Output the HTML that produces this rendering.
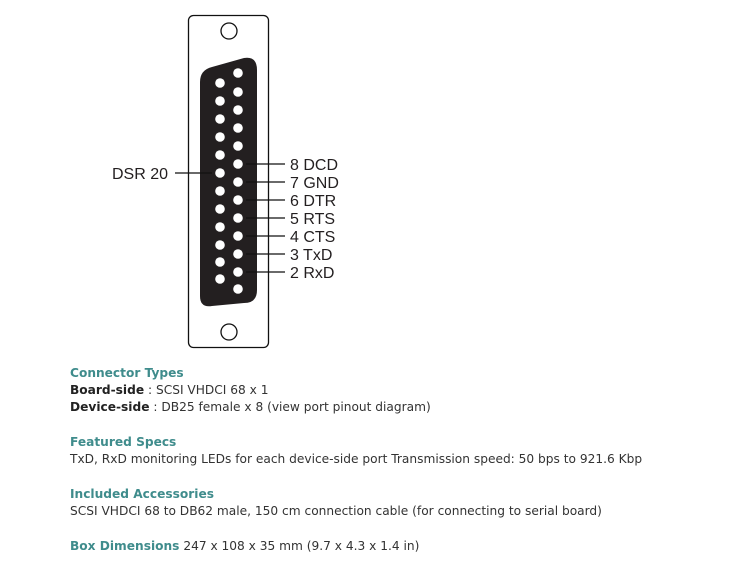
<!DOCTYPE html>
<html><head><style>
body{margin:0;background:#fff;width:730px;height:566px;position:relative;overflow:hidden}
svg{position:absolute;left:0;top:0}
.t{position:absolute;left:70px;font-family:"DejaVu Sans","Liberation Sans",sans-serif;font-size:12.2px;color:#333;white-space:nowrap;line-height:17px}
.h{color:#3f8c8c;font-weight:bold}
b{color:#222}
</style></head><body>
<svg width="730" height="360" font-family="Liberation Sans, Arial, sans-serif" font-size="16">
<rect x="188.5" y="15.5" width="80" height="332" rx="5" fill="#fff" stroke="#111" stroke-width="1.3"/>
<circle cx="229" cy="31" r="8" fill="#fff" stroke="#111" stroke-width="1.3"/>
<circle cx="229" cy="332" r="8" fill="#fff" stroke="#111" stroke-width="1.3"/>
<path d="M200,82 Q200,70 212,67 L244,58 Q257,56 257,70 L257,290 Q257,303 244,303 L212,306 Q200,308 200,296 Z" fill="#231f20"/>
<g fill="#fff">
<circle cx="238" cy="73" r="4.8"/><circle cx="238" cy="92" r="4.8"/><circle cx="238" cy="110" r="4.8"/><circle cx="238" cy="128" r="4.8"/><circle cx="238" cy="146" r="4.8"/><circle cx="238" cy="164" r="4.8"/><circle cx="238" cy="182" r="4.8"/><circle cx="238" cy="200" r="4.8"/><circle cx="238" cy="218" r="4.8"/><circle cx="238" cy="236" r="4.8"/><circle cx="238" cy="254" r="4.8"/><circle cx="238" cy="272" r="4.8"/><circle cx="238" cy="289" r="4.8"/>
<circle cx="220" cy="83" r="4.8"/><circle cx="220" cy="101" r="4.8"/><circle cx="220" cy="119" r="4.8"/><circle cx="220" cy="137" r="4.8"/><circle cx="220" cy="155" r="4.8"/><circle cx="220" cy="173" r="4.8"/><circle cx="220" cy="191" r="4.8"/><circle cx="220" cy="209" r="4.8"/><circle cx="220" cy="227" r="4.8"/><circle cx="220" cy="245" r="4.8"/><circle cx="220" cy="262" r="4.8"/><circle cx="220" cy="279" r="4.8"/>
</g>
<g stroke="#111" stroke-width="1.2">
<line x1="175" y1="173" x2="212" y2="173"/>
<line x1="246" y1="164" x2="285" y2="164"/><line x1="246" y1="182" x2="285" y2="182"/><line x1="246" y1="200" x2="285" y2="200"/><line x1="246" y1="218" x2="285" y2="218"/><line x1="246" y1="236" x2="285" y2="236"/><line x1="246" y1="254" x2="285" y2="254"/><line x1="246" y1="272" x2="285" y2="272"/>
</g>
<g fill="#231f20">
<text x="112" y="179">DSR 20</text>
<text x="290" y="170">8 DCD</text><text x="290" y="188">7 GND</text><text x="290" y="206">6 DTR</text><text x="290" y="224">5 RTS</text><text x="290" y="242">4 CTS</text><text x="290" y="260">3 TxD</text><text x="290" y="278">2 RxD</text>
</g>
</svg>
<div class="t" style="top:365px"><span class="h">Connector Types</span><br><b>Board-side</b> : SCSI VHDCI 68 x 1<br><b>Device-side</b> : DB25 female x 8 (view port pinout diagram)</div>
<div class="t" style="top:434px"><span class="h">Featured Specs</span><br>TxD, RxD monitoring LEDs for each device-side port Transmission speed: 50 bps to 921.6 Kbp</div>
<div class="t" style="top:486px"><span class="h">Included Accessories</span><br>SCSI VHDCI 68 to DB62 male, 150 cm connection cable (for connecting to serial board)</div>
<div class="t" style="top:538px"><span class="h">Box Dimensions</span> 247 x 108 x 35 mm (9.7 x 4.3 x 1.4 in)</div>
</body></html>
